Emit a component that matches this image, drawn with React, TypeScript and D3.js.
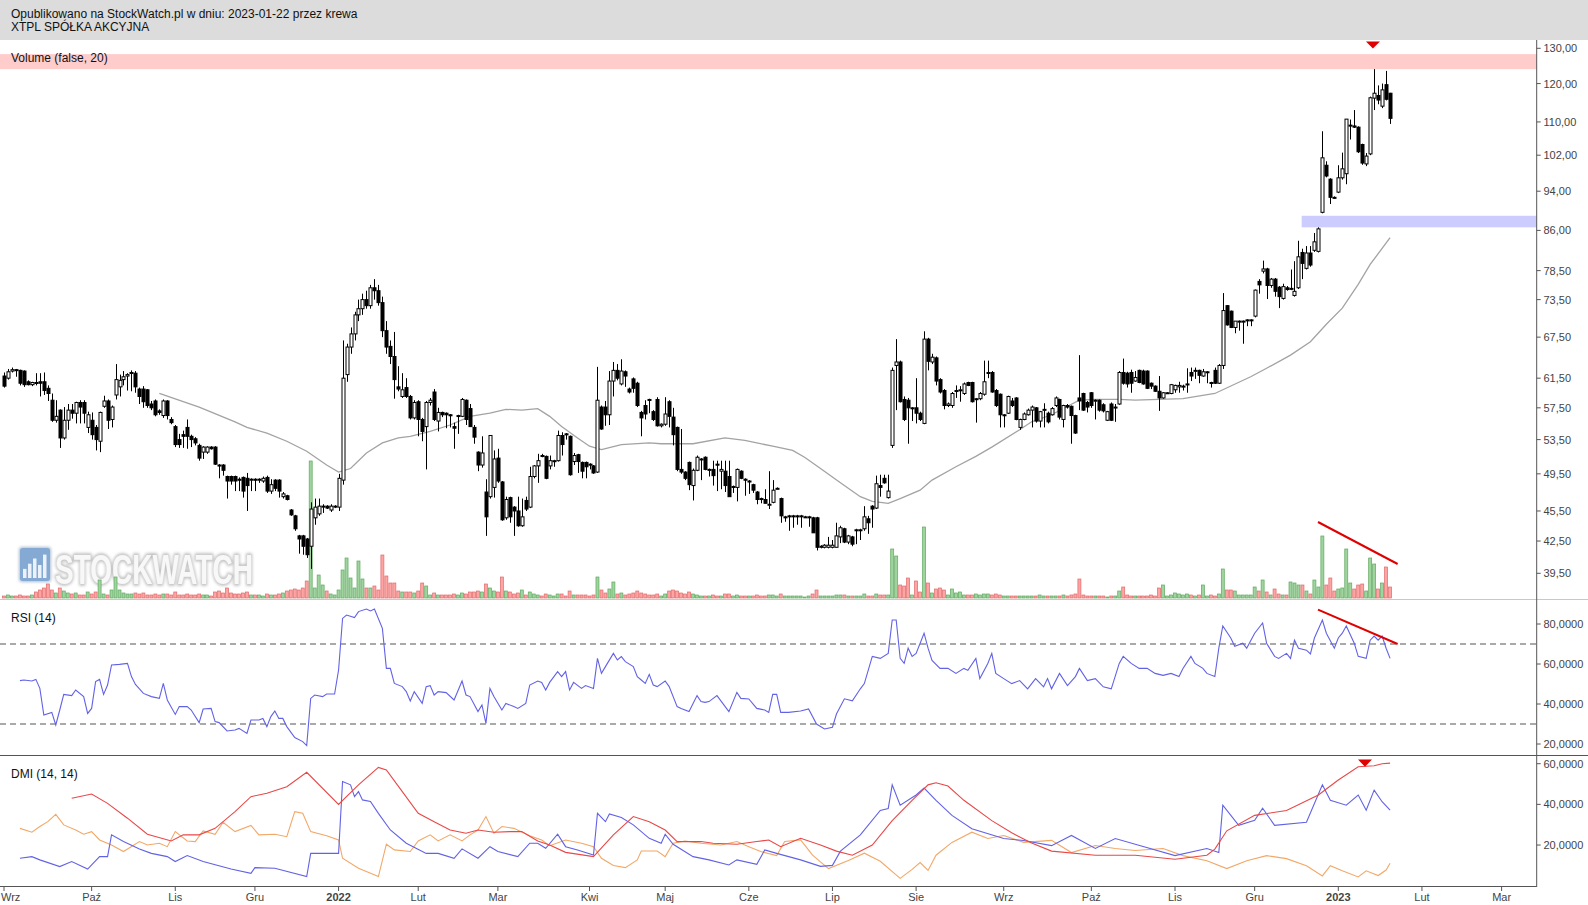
import React from "react";
import * as d3 from "d3";

const headerLine1 = "Opublikowano na StockWatch.pl w dniu: 2023-01-22 przez krewa";
const headerLine2 = "XTPL SPÓŁKA AKCYJNA";

const monthLabels = ["Wrz", "Paź", "Lis", "Gru", "2022", "Lut", "Mar", "Kwi", "Maj", "Cze", "Lip", "Sie", "Wrz", "Paź", "Lis", "Gru", "2023", "Lut", "Mar"];
const monthIndex = [0, 22, 43, 63, 84, 104, 124, 147, 166, 187, 208, 229, 251, 273, 294, 314, 335, 356, 376];
const yearLabels = ["2022", "2023"];

const priceTicks = [130, 120, 110, 102, 94, 86, 78.5, 73.5, 67.5, 61.5, 57.5, 53.5, 49.5, 45.5, 42.5, 39.5];
const rsiTicks = [80, 60, 40, 20];
const rsiLevels = [70, 30];
const dmiTicks = [60, 40, 20];

// daily candles [open, high, low, close], Sep 2021 - 20 Jan 2023
const ohlc: number[][] = [
  [61.8, 62.3, 60.2, 60.4], [61.5, 62.8, 61.3, 62.4], [62.5, 63.0, 62.3, 62.7], [62.7, 62.8, 61.7, 62.6], [62.6, 62.7, 60.5, 60.8],
  [62.5, 62.6, 60.3, 60.6], [61.0, 61.2, 60.5, 60.6], [60.6, 61.0, 60.4, 60.9], [60.9, 62.2, 60.5, 60.8], [61.0, 62.2, 59.0, 60.8],
  [61.0, 62.3, 59.2, 59.8], [60.1, 60.5, 58.4, 59.4], [58.5, 59.4, 55.7, 55.9], [55.9, 58.5, 55.6, 56.4], [57.2, 57.3, 52.5, 53.7],
  [53.7, 57.6, 53.5, 55.9], [55.9, 58.0, 54.7, 57.2], [57.2, 58.0, 56.1, 56.8], [56.8, 58.3, 55.5, 58.2], [58.2, 58.5, 55.5, 57.6],
  [58.2, 58.5, 55.5, 56.8], [55.0, 57.0, 54.3, 56.6],
  [55.9, 56.9, 53.5, 54.1], [55.0, 55.3, 52.2, 53.5], [53.3, 57.0, 52.0, 56.9], [57.7, 59.1, 57.5, 58.4], [58.4, 58.6, 54.8, 55.9],
  [56.0, 57.8, 55.0, 57.6], [59.2, 63.5, 58.6, 61.3], [60.3, 62.0, 59.0, 61.2], [61.3, 62.5, 60.5, 61.7], [61.8, 62.2, 59.8, 62.0],
  [62.2, 62.6, 59.7, 62.3], [62.2, 62.5, 59.5, 60.3], [60.0, 60.2, 58.0, 59.0], [60.0, 60.4, 57.5, 58.3], [59.9, 60.0, 57.5, 57.8],
  [58.0, 58.4, 57.2, 57.5], [58.4, 58.6, 56.4, 56.6], [57.1, 57.3, 56.6, 56.9], [56.5, 58.6, 56.2, 58.4], [58.4, 58.5, 56.0, 56.5],
  [56.0, 56.3, 55.4, 55.6],
  [55.1, 55.3, 52.6, 52.9], [53.5, 54.2, 52.5, 52.9], [54.1, 54.6, 52.5, 53.9], [55.0, 56.0, 52.4, 53.9], [53.9, 54.1, 52.6, 53.5],
  [53.6, 53.8, 52.8, 53.1], [52.8, 53.0, 51.0, 51.3], [52.0, 52.7, 51.2, 52.6], [52.0, 52.7, 51.8, 52.6], [52.6, 52.7, 52.3, 52.4],
  [52.6, 52.7, 50.5, 50.6], [50.5, 50.6, 49.0, 50.4], [50.5, 50.6, 49.3, 49.9], [49.2, 49.3, 46.8, 48.7], [49.2, 49.3, 48.3, 48.7],
  [49.2, 49.3, 47.6, 48.7], [48.9, 49.1, 47.6, 48.8], [49.1, 49.2, 46.9, 47.6], [49.0, 49.6, 45.5, 48.2], [48.9, 49.0, 47.6, 48.9],
  [48.9, 49.0, 47.6, 48.8], [48.9, 49.0, 48.5, 48.9], [48.7, 49.2, 48.5, 49.0], [49.1, 49.3, 47.4, 47.6], [47.6, 48.9, 47.3, 48.3],
  [48.8, 48.9, 47.6, 47.9], [48.8, 48.9, 46.9, 47.6], [47.0, 47.5, 46.8, 47.3], [47.1, 47.2, 46.6, 46.7], [45.6, 45.7, 45.0, 45.1],
  [45.0, 45.1, 43.5, 43.7], [43.0, 43.1, 41.3, 42.7], [43.0, 43.1, 41.2, 42.0], [42.7, 42.8, 40.9, 41.2], [42.0, 46.4, 39.9, 45.7],
  [44.8, 46.8, 44.1, 45.9], [45.2, 46.8, 45.0, 46.0], [45.9, 46.2, 45.3, 46.0], [46.0, 46.1, 45.7, 45.8], [45.6, 46.2, 45.4, 46.0],
  [45.9, 46.1, 45.8, 46.0],
  [45.9, 49.5, 45.5, 49.0], [48.8, 67.0, 48.3, 61.5], [62.0, 66.5, 61.0, 66.0], [66.0, 69.0, 65.0, 68.0], [68.0, 71.5, 67.0, 71.0],
  [71.0, 73.5, 70.0, 72.0], [72.0, 74.5, 71.0, 73.5], [73.5, 75.0, 72.0, 72.5], [72.5, 76.0, 72.0, 75.5], [75.5, 77.0, 73.5, 75.0],
  [75.0, 76.0, 72.5, 73.0], [73.0, 74.0, 67.5, 68.5], [68.5, 70.0, 65.0, 66.0], [66.1, 67.0, 63.5, 64.6], [64.6, 68.3, 58.7, 61.3],
  [60.3, 63.2, 59.7, 60.0], [59.0, 62.2, 58.8, 59.9], [60.2, 61.5, 58.8, 59.0], [59.0, 59.2, 56.0, 56.2], [56.2, 58.5, 56.0, 58.2],
  [58.3, 58.5, 53.9, 56.0], [56.0, 56.2, 53.3, 54.5], [55.1, 58.4, 50.0, 58.2], [58.2, 58.8, 57.8, 58.5], [59.6, 60.0, 55.8, 56.0],
  [55.8, 57.5, 54.5, 56.9], [56.9, 57.0, 56.3, 56.6], [56.8, 56.9, 54.9, 56.6], [56.6, 56.7, 55.0, 56.5], [55.1, 55.6, 52.4, 54.9],
  [56.4, 56.6, 54.2, 56.5], [56.4, 58.8, 56.3, 58.6], [58.5, 58.6, 55.3, 56.0], [57.4, 58.0, 55.1, 55.1], [55.0, 55.3, 53.0, 53.8],
  [52.0, 52.1, 49.8, 50.5], [50.5, 53.9, 50.2, 51.9], [47.5, 48.9, 43.0, 44.9], [47.0, 54.0, 46.8, 54.0], [48.0, 52.2, 46.9, 51.2],
  [51.3, 52.4, 48.5, 48.7], [48.6, 48.7, 44.5, 44.6], [44.8, 47.0, 44.6, 46.7], [46.9, 47.0, 44.3, 44.9], [45.9, 46.0, 43.0, 45.5],
  [45.5, 47.0, 43.9, 44.0], [44.0, 46.8, 43.9, 44.9], [46.6, 47.0, 45.5, 45.7], [45.9, 50.3, 45.8, 49.2], [49.2, 50.5, 49.0, 50.4],
  [50.4, 51.8, 48.5, 51.0], [51.6, 51.8, 51.4, 51.5], [51.5, 51.6, 48.9, 49.0], [50.4, 51.6, 50.0, 51.0], [51.0, 51.1, 50.3, 51.0],
  [51.0, 54.6, 50.9, 54.0], [54.0, 54.4, 51.6, 52.9], [54.2, 54.3, 53.5, 54.1], [53.9, 54.0, 49.3, 49.4], [50.9, 51.9, 50.5, 51.6],
  [51.7, 51.8, 49.6, 50.9], [50.8, 50.9, 49.0, 49.8], [50.8, 50.9, 49.0, 50.3],
  [50.6, 50.7, 50.0, 50.5], [50.4, 50.5, 49.5, 49.6], [49.7, 63.1, 49.6, 58.5], [57.6, 57.8, 54.7, 54.8], [57.6, 58.4, 55.2, 56.6],
  [56.6, 62.5, 55.3, 61.1], [61.1, 63.8, 59.0, 62.6], [62.6, 63.5, 61.2, 61.5], [60.7, 64.2, 60.5, 62.5], [62.4, 62.6, 60.3, 61.8],
  [60.0, 60.2, 59.4, 59.6], [61.4, 61.6, 59.5, 60.1], [60.8, 61.0, 57.6, 57.8], [56.9, 57.1, 53.9, 56.2], [57.8, 58.5, 56.0, 56.7],
  [58.6, 58.7, 56.8, 58.5], [57.0, 57.2, 55.8, 56.0], [58.6, 58.9, 55.1, 55.2], [55.2, 55.5, 55.0, 55.4],
  [55.4, 58.9, 55.2, 56.7], [58.3, 58.5, 55.0, 56.4], [56.3, 57.5, 52.8, 54.1], [55.0, 55.1, 49.8, 50.0], [50.0, 54.8, 49.5, 49.7],
  [49.7, 49.8, 48.8, 49.0], [50.8, 50.9, 47.7, 48.3], [48.2, 50.1, 46.6, 49.9], [49.9, 51.6, 49.8, 51.4], [51.2, 51.3, 48.8, 51.2],
  [51.4, 51.5, 49.9, 50.0], [50.0, 50.1, 49.2, 50.0], [50.0, 51.0, 48.2, 49.3], [50.6, 51.0, 47.6, 50.5], [49.8, 51.0, 47.8, 50.0],
  [49.8, 51.0, 47.5, 48.2], [49.2, 51.0, 47.0, 47.0], [48.1, 48.2, 47.4, 48.1], [48.0, 50.1, 46.5, 50.0], [49.8, 49.9, 48.9, 49.0],
  [48.9, 49.0, 47.1, 48.8],
  [48.7, 48.8, 47.3, 48.7], [48.3, 48.4, 47.4, 47.7], [47.5, 47.6, 46.2, 46.7], [46.8, 46.9, 46.3, 46.7], [46.7, 47.8, 46.3, 46.3],
  [46.2, 49.8, 45.7, 46.2], [46.4, 48.8, 46.3, 47.7], [47.9, 48.0, 47.8, 47.9], [46.8, 46.9, 44.3, 45.0], [44.9, 45.0, 44.4, 44.9],
  [45.0, 45.1, 43.5, 45.0], [44.9, 45.1, 43.8, 45.0], [45.0, 45.1, 44.1, 45.0], [45.0, 45.1, 43.8, 45.0], [44.9, 45.0, 44.8, 44.9],
  [44.9, 45.0, 43.9, 44.9], [44.8, 44.9, 43.3, 43.3], [44.8, 44.9, 41.6, 41.9], [41.9, 42.1, 41.8, 42.0], [41.9, 42.2, 41.8, 42.1],
  [41.9, 42.9, 41.8, 42.1],
  [41.9, 42.6, 41.8, 42.1], [41.9, 44.3, 41.9, 43.0], [42.9, 44.0, 42.3, 43.8], [43.7, 43.8, 42.3, 42.4], [42.4, 43.1, 42.2, 43.0],
  [42.9, 43.0, 42.0, 42.2], [43.6, 43.7, 42.2, 43.6], [43.6, 43.7, 42.6, 43.6], [43.7, 46.0, 43.5, 44.9], [44.7, 45.0, 43.2, 44.3],
  [46.0, 46.1, 43.8, 45.7], [45.8, 49.3, 45.7, 48.4], [48.2, 49.4, 47.0, 48.0], [49.0, 49.4, 48.4, 48.5], [46.9, 49.4, 46.8, 47.6],
  [52.8, 63.0, 52.5, 62.6], [63.3, 67.2, 57.2, 63.8], [63.8, 64.0, 58.2, 58.3], [58.6, 59.0, 55.8, 56.0], [58.5, 58.8, 53.0, 57.5],
  [57.5, 57.6, 55.8, 57.5],
  [57.5, 61.5, 55.5, 56.8], [56.8, 57.0, 55.8, 56.0], [55.5, 68.4, 55.4, 67.2], [67.2, 67.4, 62.6, 63.9], [63.8, 65.0, 63.5, 64.5],
  [64.4, 64.6, 60.5, 61.1], [61.3, 61.5, 59.4, 59.6], [59.8, 60.0, 57.3, 57.8], [57.8, 58.2, 57.6, 58.0], [57.8, 59.6, 57.5, 59.4],
  [59.8, 60.5, 58.8, 59.8], [59.8, 60.4, 58.3, 59.9], [59.4, 60.9, 59.2, 60.7], [60.9, 61.0, 60.4, 60.5], [60.9, 61.0, 58.2, 58.3],
  [58.7, 58.8, 55.6, 58.7], [58.7, 59.6, 58.5, 59.4], [59.3, 64.0, 59.1, 61.0], [62.3, 64.0, 61.5, 62.3], [62.3, 62.5, 59.5, 59.6],
  [59.8, 60.0, 57.6, 57.8], [59.3, 59.4, 55.0, 56.6],
  [56.6, 56.7, 55.0, 56.6], [56.8, 59.1, 56.7, 59.0], [58.4, 58.8, 57.6, 57.8], [58.8, 58.9, 55.9, 56.0], [55.0, 56.1, 54.7, 56.0],
  [56.0, 56.9, 55.9, 56.7], [56.6, 57.4, 56.5, 57.2], [57.2, 57.8, 55.0, 57.6], [57.5, 57.6, 55.6, 55.8], [55.8, 57.1, 55.0, 57.0],
  [57.2, 58.1, 55.0, 57.3], [56.8, 57.0, 55.5, 55.7], [56.6, 57.6, 56.5, 57.4], [57.8, 59.0, 57.6, 58.8], [58.6, 58.7, 56.0, 56.3],
  [56.0, 57.9, 55.0, 57.8], [57.8, 58.0, 57.4, 57.6], [57.7, 57.8, 53.0, 56.5], [56.5, 56.6, 54.2, 54.3], [58.8, 64.8, 57.2, 58.4],
  [59.4, 59.5, 57.1, 57.2], [58.2, 58.4, 56.9, 57.6],
  [59.5, 59.6, 57.5, 57.8], [58.5, 58.6, 56.0, 58.5], [58.5, 58.6, 57.0, 57.2], [57.9, 58.1, 56.9, 57.1], [55.9, 57.1, 55.8, 57.0],
  [58.0, 58.2, 55.8, 55.9], [57.5, 58.0, 55.7, 57.6], [58.0, 62.5, 57.9, 62.3], [62.3, 64.3, 60.6, 60.8], [62.2, 62.4, 60.2, 60.7],
  [62.3, 62.7, 59.5, 60.8], [61.1, 62.5, 61.0, 61.6], [62.6, 62.7, 60.8, 60.9], [62.5, 62.7, 60.6, 60.7], [62.5, 62.6, 60.0, 60.1],
  [60.8, 60.9, 60.0, 60.4], [60.4, 60.5, 59.6, 59.7], [59.7, 61.8, 57.1, 58.8], [58.8, 59.6, 58.7, 59.5], [59.5, 59.6, 59.4, 59.5],
  [59.4, 60.7, 59.3, 60.6],
  [59.9, 60.6, 59.5, 60.5], [60.3, 61.0, 59.5, 60.5], [60.4, 60.6, 59.8, 60.4], [60.7, 62.9, 59.5, 60.7], [62.3, 63.0, 61.1, 61.8],
  [62.6, 63.0, 61.4, 62.6], [62.6, 62.7, 60.8, 61.9], [61.8, 62.8, 61.7, 62.4], [62.4, 62.5, 60.8, 62.4], [60.9, 61.0, 60.2, 60.8],
  [62.6, 63.0, 60.7, 60.8], [60.8, 63.5, 60.7, 63.3], [63.3, 74.6, 62.8, 71.7], [72.5, 72.6, 69.3, 69.4], [71.6, 71.7, 68.9, 69.0],
  [69.0, 70.0, 68.1, 70.0], [70.0, 70.1, 68.5, 70.0], [70.0, 70.1, 66.5, 70.0], [70.2, 70.3, 69.2, 70.2], [70.2, 70.3, 69.2, 70.2],
  [70.8, 75.2, 70.6, 75.1], [76.6, 77.0, 74.5, 76.0], [78.4, 80.3, 78.0, 78.8], [78.8, 79.0, 73.6, 75.9], [75.9, 77.2, 75.5, 77.0],
  [77.0, 77.2, 74.0, 74.9], [75.6, 75.8, 72.1, 74.0], [73.7, 76.2, 73.5, 75.7], [75.5, 75.8, 75.0, 75.2], [75.3, 78.7, 75.1, 75.4],
  [74.2, 80.2, 74.0, 74.9], [75.5, 84.0, 75.3, 81.0], [81.8, 82.5, 77.0, 79.8], [78.9, 83.0, 78.7, 81.7], [81.7, 83.0, 79.2, 79.5],
  [82.2, 85.5, 81.9, 83.8], [82.0, 86.6, 81.8, 86.3], [89.6, 107.7, 89.4, 101.4], [99.7, 100.6, 97.0, 97.3], [96.6, 96.8, 91.3, 92.7],
  [92.7, 92.9, 92.4, 92.6],
  [93.8, 99.7, 93.6, 96.9], [96.9, 102.6, 96.5, 98.9], [97.8, 110.7, 95.5, 110.7], [109.0, 110.6, 105.7, 109.2], [109.0, 113.0, 108.5, 108.7],
  [108.7, 108.9, 102.5, 102.8], [104.5, 104.7, 99.8, 100.2], [100.0, 102.5, 99.5, 101.8], [102.3, 116.5, 102.0, 116.2], [116.1, 124.0, 113.0, 117.4],
  [116.8, 119.5, 114.5, 115.6], [114.0, 120.0, 113.5, 118.3], [119.7, 123.5, 115.5, 115.8], [117.4, 117.5, 109.5, 110.9],
];

const volume: number[] = [
  2, 3, 2, 2, 3, 2, 2, 3, 6, 8,
  10, 14, 8, 5, 10, 7, 5, 4, 5, 3,
  3, 6, 4, 6, 18, 4, 3, 8, 21, 8,
  5, 4, 4, 5, 4, 5, 3, 3, 4, 3,
  4, 4, 3, 6, 3, 3, 4, 3, 3, 4,
  3, 3, 2, 6, 7, 5, 10, 5, 4, 4,
  5, 6, 3, 3, 3, 2, 4, 3, 3, 4,
  5, 7, 8, 9, 8, 10, 17, 137, 10, 23,
  13, 7, 4, 3, 8, 28, 40, 20, 10, 37,
  19, 10, 10, 12, 8, 43, 22, 15, 15, 7,
  6, 6, 6, 5, 7, 15, 12, 3, 5, 3,
  3, 3, 3, 4, 3, 5, 4, 6, 6, 7,
  6, 14, 10, 7, 6, 21, 7, 6, 4, 5,
  8, 3, 6, 4, 3, 2, 4, 3, 2, 4,
  4, 2, 7, 3, 3, 3, 3, 2, 3, 21,
  8, 5, 9, 16, 4, 5, 3, 4, 5, 7,
  5, 4, 3, 3, 4, 2, 4, 7, 8, 7,
  5, 4, 6, 4, 3, 2, 2, 2, 3, 2,
  2, 4, 4, 2, 3, 2, 2, 2, 2, 3,
  2, 2, 3, 3, 2, 4, 2, 2, 2, 2,
  2, 1, 2, 4, 8, 2, 2, 2, 2, 3,
  3, 3, 2, 2, 2, 2, 4, 2, 2, 4,
  3, 3, 3, 49, 42, 13, 12, 20, 3, 17,
  6, 71, 15, 5, 9, 10, 8, 3, 9, 5,
  6, 3, 3, 3, 4, 3, 4, 4, 3, 4,
  3, 2, 2, 2, 2, 2, 2, 2, 2, 2,
  3, 2, 2, 2, 2, 2, 3, 2, 3, 4,
  19, 3, 2, 2, 2, 2, 2, 1, 2, 2,
  7, 11, 3, 2, 2, 2, 2, 2, 3, 2,
  10, 13, 2, 3, 5, 4, 3, 4, 3, 2,
  3, 13, 2, 3, 2, 4, 29, 8, 8, 7,
  3, 3, 3, 3, 11, 7, 18, 6, 3, 9,
  4, 3, 3, 16, 15, 13, 13, 7, 4, 18,
  11, 62, 13, 20, 7, 9, 10, 49, 15, 9,
  13, 14, 7, 40, 34, 9, 15, 31, 11,
];

// gray moving average [day index, price]
const smaPoints: [number, number][] = [
  [39, 59.4], [49, 57.6], [58, 55.7], [61, 55.0], [66, 54.3], [71, 53.3], [76, 52.1], [81, 50.5], [84, 49.7], [87, 50.1],
  [91, 51.9], [95, 53.1], [99, 53.7], [102, 53.9], [107, 54.5], [112, 55.3], [117, 56.4], [122, 56.8], [126, 57.3], [130, 57.2],
  [134, 57.4], [137, 56.4], [140, 55.1], [144, 53.7], [147, 52.7], [150, 52.3], [155, 52.9], [162, 53.1], [165, 53.0], [173, 53.0],
  [181, 53.7], [186, 53.4], [193, 52.7], [198, 52.2], [201, 51.4], [205, 50.1], [210, 48.5], [215, 47.0], [218, 46.5], [222, 46.3],
  [225, 46.8], [230, 47.7], [233, 48.8], [239, 50.3], [244, 51.5], [248, 52.6], [255, 54.7], [258, 55.7], [263, 56.6], [267, 57.7],
  [270, 58.5], [274, 58.6], [280, 58.6], [284, 58.5], [290, 58.6], [296, 58.7], [304, 59.4], [313, 61.7], [317, 62.9], [323, 64.8],
  [328, 66.8], [332, 69.5], [336, 72.1], [340, 76.1], [343, 79.6], [348, 84.6],
];

const rsiPoints: [number, number][] = [
  [4, 51.7], [5, 52], [7, 51.5], [8, 52.3], [9, 47.8], [10, 34.5], [12, 35.8], [13, 29.5], [14, 37], [15, 44.8],
  [17, 44.2], [18, 47], [20, 43.7], [21, 35.3], [22, 37.8], [23, 51.2], [24, 52.3], [25, 44.8], [26, 49.5], [27, 59.5],
  [29, 59.8], [31, 60.3], [32, 53.7], [33, 49.8], [35, 45.3], [37, 43.7], [39, 42.8], [40, 50.3], [41, 42], [43, 34.8],
  [44, 38.7], [46, 38.7], [47, 37], [49, 30.7], [50, 37.5], [52, 37.8], [53, 31.2], [54, 30.7], [56, 26.5], [58, 27],
  [59, 27.8], [61, 25.3], [62, 32], [64, 32], [65, 32.8], [66, 28.7], [67, 33.7], [68, 36.5], [69, 32.8], [70, 32.8],
  [71, 28.7], [73, 23.2], [75, 21.2], [76, 19.2], [77, 42.8], [78, 44.5], [80, 43.7], [81, 45], [83, 45], [84, 57],
  [85, 82.8], [86, 84.5], [88, 83.2], [89, 86.2], [91, 87.5], [92, 86.5], [93, 87.5], [95, 77.8], [96, 57.8], [97, 57.8],
  [98, 50.3], [100, 48.7], [101, 46.2], [102, 41.5], [103, 46.2], [105, 40.3], [106, 48.7], [107, 49.2], [108, 44.5], [109, 46.2],
  [111, 45.7], [113, 42], [115, 51.5], [116, 44.5], [117, 43.7], [119, 36.2], [120, 39.5], [121, 30.3], [122, 47.8], [123, 43.7],
  [125, 37], [126, 40.3], [128, 38.7], [129, 37.8], [131, 40.3], [132, 49.5], [134, 51.5], [135, 50.8], [136, 47], [137, 50.8],
  [139, 56.2], [140, 53.7], [141, 56.2], [142, 47], [143, 50.8], [145, 47.8], [146, 49.2], [148, 47.8], [149, 62.8], [150, 55.3],
  [151, 58.7], [153, 65.3], [154, 62], [155, 63.7], [156, 61.2], [158, 58.7], [159, 53.7], [160, 52], [161, 50.3], [162, 54.8],
  [163, 49.5], [164, 48.7], [166, 51.5], [167, 48.7], [169, 38.7], [170, 37.8], [172, 36.2], [174, 44.2], [175, 41.2], [176, 40.8],
  [177, 41.2], [179, 44.2], [182, 36.2], [184, 45.8], [185, 42.8], [187, 42.5], [189, 37.8], [191, 37], [192, 35.8], [193, 44.8],
  [194, 44.8], [195, 35.8], [197, 35.8], [200, 36.5], [202, 37.5], [204, 30], [206, 27.5], [208, 28.4], [209, 35], [211, 42.6],
  [213, 41.6], [215, 47.6], [216, 50.2], [218, 63.8], [220, 62.8], [222, 65.3], [223, 82], [224, 82], [225, 62.8], [226, 60.3],
  [227, 67.9], [228, 63.8], [229, 65.3], [231, 75.4], [232, 67.9], [233, 61.8], [235, 57.8], [237, 57.8], [239, 55.3], [241, 57.8],
  [242, 56.8], [244, 62.8], [245, 52.7], [247, 60.3], [248, 65.3], [249, 55.3], [251, 52.7], [253, 50.2], [255, 51.7], [257, 47.6],
  [259, 52.7], [261, 48.6], [262, 52.7], [263, 47.6], [265, 55.3], [267, 49.2], [269, 53.7], [270, 57.8], [272, 51.7], [274, 52.7],
  [276, 48.6], [278, 47.6], [280, 60.3], [281, 63.8], [283, 60.3], [285, 57.8], [287, 57.8], [289, 55.3], [291, 54.3], [293, 55.3],
  [295, 53.7], [296, 57.8], [298, 63.8], [299, 60.3], [301, 57.8], [302, 55.3], [304, 53.7], [305, 67.9], [306, 79], [308, 73],
  [309, 68.9], [311, 70.4], [312, 67.9], [314, 75.4], [316, 80.5], [317, 70.4], [319, 63.8], [320, 62.8], [322, 65.3], [323, 62.8],
  [324, 71.9], [325, 67.9], [327, 66.9], [328, 65], [329, 73], [331, 82], [332, 75.4], [334, 67.9], [335, 73], [336, 75.4],
  [337, 79], [339, 70.4], [340, 63.8], [342, 62.8], [343, 71.9], [344, 74], [345, 71.9], [346, 74], [347, 67.9], [348, 62.8],
];

const adxPoints: [number, number][] = [
  [17, 43], [22, 45.1], [26, 40.5], [31, 33.2], [36, 25.3], [42, 22], [45, 25], [49, 25], [53, 28.2], [58, 36.4],
  [62, 43.8], [66, 45.5], [71, 48.7], [76, 55.8], [84, 40], [89, 49.6], [94, 58.2], [96, 56.9], [100, 46.3], [104, 35.6],
  [108, 31.5], [112, 27.4], [116, 25.8], [119, 27.4], [123, 26.3], [127, 26.6], [130, 26.6], [134, 22], [137, 20], [141, 16.4],
  [148, 14.3], [153, 25], [158, 34], [162, 31.5], [166, 27.4], [169, 21.7], [175, 21.7], [178, 20.9], [184, 20.4], [189, 21.7],
  [192, 22.5], [195, 19.2], [200, 23.3], [205, 20], [209, 17], [213, 15], [218, 20], [223, 32], [228, 42], [232, 49.6],
  [234, 50.6], [237, 49], [241, 42], [248, 32], [253, 26], [258, 21], [263, 17], [274, 15], [284, 15], [294, 13],
  [302, 15], [304, 18], [307, 27], [314, 34.6], [322, 37], [330, 44.6], [335, 52], [340, 58.5], [344, 59], [346, 60],
  [348, 60.3],
];

const plusDiPoints: [number, number][] = [
  [4, 13.5], [7, 14.3], [9, 12.7], [14, 9.4], [17, 11.9], [21, 8.2], [24, 14.3], [26, 14.3], [27, 25], [30, 21.7],
  [34, 18.1], [37, 15.9], [41, 14.3], [43, 11.9], [46, 14.8], [50, 11.9], [57, 8.2], [62, 6.1], [63, 8.9], [68, 8.6],
  [76, 4.5], [77, 15.9], [79, 15.9], [84, 15.9], [85, 51.2], [87, 49.6], [88, 43.8], [89, 46.3], [90, 42.2], [92, 41.4],
  [94, 35.6], [97, 27.4], [101, 20.9], [106, 15.9], [109, 15.9], [113, 13.5], [115, 18.1], [119, 13.5], [122, 19.2], [124, 16.8],
  [129, 14.3], [132, 20.9], [134, 20.9], [136, 18.4], [139, 25.3], [141, 19.2], [144, 17.6], [148, 15.1], [149, 35.6], [151, 31.5],
  [152, 35.3], [155, 33.5], [158, 29.9], [162, 23.3], [165, 20.9], [166, 25.3], [168, 20.4], [173, 14.3], [177, 12.7], [182, 10.2],
  [184, 12.7], [189, 10.5], [191, 17.6], [194, 15.9], [200, 12.7], [205, 9.5], [208, 10], [210, 17], [215, 25], [220, 37],
  [222, 38], [223, 49.6], [225, 39.6], [229, 44.6], [231, 48], [234, 42], [238, 34.6], [243, 28], [251, 23.2], [256, 22.2],
  [263, 19.7], [268, 24.7], [274, 18.3], [279, 23.2], [286, 19.3], [294, 14.8], [302, 18.3], [305, 16.3], [306, 39.6], [310, 29.7],
  [314, 32.2], [316, 38.1], [319, 29.7], [327, 31.2], [331, 49.6], [333, 42], [337, 39.6], [340, 44.6], [342, 37.1], [344, 47],
  [346, 41.3], [348, 37.2],
];

const minusDiPoints: [number, number][] = [
  [4, 28.2], [7, 26.3], [9, 29.1], [11, 31.5], [13, 35.1], [15, 29.9], [18, 27.4], [20, 25.3], [22, 26.6], [24, 22.5],
  [27, 20], [30, 16.8], [34, 21.7], [36, 20], [39, 20.9], [41, 19.2], [43, 26.6], [46, 22], [48, 21.7], [50, 26.9],
  [53, 25.3], [55, 31.2], [58, 26.6], [62, 29.6], [64, 25], [68, 25.3], [71, 24.1], [73, 36.4], [75, 35.6], [77, 26.6],
  [81, 24.6], [84, 22.5], [85, 13.5], [89, 8.6], [94, 4.5], [96, 20.4], [98, 17.6], [102, 16.8], [104, 22], [107, 25],
  [109, 22], [112, 25], [115, 22], [117, 25], [119, 27.4], [121, 34], [123, 25.8], [125, 29.1], [128, 28.2], [132, 24.6],
  [135, 22.5], [137, 19.7], [141, 22.5], [145, 20.9], [148, 19.2], [150, 13.5], [153, 9.9], [156, 8.9], [159, 12.7], [160, 17.1],
  [164, 17.1], [166, 14.3], [168, 20.9], [171, 22], [175, 20.9], [180, 20], [184, 21.7], [187, 19.2], [190, 16.8], [194, 14.8],
  [196, 21.7], [200, 22.5], [203, 15], [207, 8.4], [212, 12.4], [216, 16], [220, 12], [225, 3.6], [228, 8], [230, 11.4],
  [232, 7.5], [234, 15], [238, 21.3], [243, 26.3], [247, 23.2], [251, 24.7], [256, 21.3], [263, 22.3], [268, 16.3], [274, 19.8],
  [279, 18.3], [284, 17.3], [291, 18.3], [296, 14.8], [302, 12.3], [307, 8.4], [312, 12.3], [317, 14.8], [322, 13.3], [327, 9.8],
  [331, 4.8], [333, 9.8], [336, 7.3], [340, 4.3], [342, 7.3], [345, 5], [347, 7.7], [348, 11],
];

// drawn annotations
const resistanceZone = [124.0, 128.3];
const supportZone = [86.6, 88.9];
const supportZoneStart = 325.8;
const volumeTrend: [number, number][] = [[329.9, 76], [349.9, 34]];
const rsiTrend: [number, number][] = [[329.9, 87.2], [349.9, 70]];
const priceMarkerIdx = 343.7;
const dmiMarkerIdx = 341.7;

const FONT = "'Liberation Sans', Arial, Helvetica, sans-serif";
const AXIS_X = 1536.7;

const fmt2 = (v: number) => v.toFixed(2).replace(".", ",");
const fmt4 = (v: number) => v.toFixed(4).replace(".", ",");

export default function App() {
  const x = d3.scaleLinear().domain([0, 384]).range([4, 4 + 384 * 3.983]);
  const yP = d3.scaleLog().domain([39.5, 130]).range([573.3, 48.3]);
  const yV = d3.scaleLinear().domain([0, 140]).range([598, 458]);
  const yR = d3.scaleLinear().domain([20, 80]).range([744, 624]);
  const yD = d3.scaleLinear().domain([0, 60]).range([885.7, 763.7]);

  const smaLine = d3.line<[number, number]>().x((d) => x(d[0])).y((d) => yP(d[1]));
  const rsiLine = d3.line<[number, number]>().x((d) => x(d[0])).y((d) => yR(d[1]));
  const dmiLine = d3.line<[number, number]>().x((d) => x(d[0])).y((d) => yD(d[1]));

  const bw = 3;

  return (
    <svg width={1588} height={905} style={{ position: "fixed", left: 0, top: 0, display: "block", background: "#fff" }} fontFamily={FONT}>
      <defs>
        <clipPath id="pricePanel">
          <rect x={0} y={40} width={AXIS_X} height={559} />
        </clipPath>
        <filter id="wmShadow" x="-10%" y="-30%" width="120%" height="160%">
          <feGaussianBlur stdDeviation={1.6} />
        </filter>
      </defs>
      <rect x={0} y={0} width={1588} height={905} fill="#fff" />
      {/* header */}
      <rect x={0} y={0} width={1588} height={40} fill="#dcdcdc" />
      <text x={11} y={17.5} fontSize={12} fill="#111">{headerLine1}</text>
      <text x={11} y={31} fontSize={12} fill="#111">{headerLine2}</text>

      {/* zones */}
      <rect x={0} y={yP(resistanceZone[1])} width={AXIS_X} height={yP(resistanceZone[0]) - yP(resistanceZone[1])} fill="#ffcccc" />
      <rect x={x(supportZoneStart)} y={yP(supportZone[1])} width={AXIS_X - x(supportZoneStart)} height={yP(supportZone[0]) - yP(supportZone[1])} fill="#ccccff" />
      <text x={11} y={61.5} fontSize={12} fill="#111">Volume (false, 20)</text>

      {/* watermark */}
      <g opacity={0.85}>
        <rect x={19} y={547} width={32} height={35} rx={3} fill="#9db4cc" filter="url(#wmShadow)" />
        <rect x={20} y={548} width={30} height={33} rx={3} fill="#6f9bcc" />
        {[0.35, 0.55, 0.75, 0.5, 0.9].map((h, k) => (
          <rect key={k} x={23 + k * 5} y={578 - h * 26} width={3.5} height={h * 26} fill="#e8f0fa" />
        ))}
        <text x={55} y={584} fontSize={42} fontWeight="bold" fill="none" stroke="#a8a8a8" strokeWidth={3} textLength={198} lengthAdjust="spacingAndGlyphs" filter="url(#wmShadow)">STOCKWATCH</text>
        <text x={55} y={584} fontSize={42} fontWeight="bold" fill="#f7f7f7" textLength={198} lengthAdjust="spacingAndGlyphs">STOCKWATCH</text>
      </g>

      <g clipPath="url(#pricePanel)">
        {/* volume */}
        {volume.map((v, i) => {
          const up = ohlc[i][3] >= ohlc[i][0];
          const top = yV(v);
          return (
            <rect key={"v" + i} x={x(i) - 1.5} y={top} width={bw} height={Math.max(0.5, yV(0) - top)}
              fill={up ? "#9fd49f" : "#ffa3a3"} stroke={up ? "#5fa85f" : "#e06a6a"} strokeWidth={0.7} />
          );
        })}
        {/* moving average */}
        <path d={smaLine(smaPoints) || ""} fill="none" stroke="#a3a3a3" strokeWidth={1.3} />
        {/* candles */}
        {ohlc.map((c, i) => {
          const [o, h, l, cl] = c;
          const cx = Math.round(x(i)) + 0.5;
          const up = cl >= o;
          const yt = yP(Math.max(o, cl));
          const yb = yP(Math.min(o, cl));
          const bh = Math.max(1, yb - yt);
          return (
            <g key={"c" + i}>
              <line x1={cx} x2={cx} y1={yP(h)} y2={yP(l)} stroke="#000" strokeWidth={1} />
              <rect x={cx - 1.5} y={yt} width={bw} height={bh} fill={up ? "#fff" : "#000"} stroke="#000" strokeWidth={1} />
            </g>
          );
        })}
        {/* volume trend line */}
        <line x1={x(volumeTrend[0][0])} y1={yV(volumeTrend[0][1])} x2={x(volumeTrend[1][0])} y2={yV(volumeTrend[1][1])} stroke="#e00000" strokeWidth={2} />
      </g>
      {/* marker on price panel */}
      <path d={`M${x(priceMarkerIdx) - 7},41.5 L${x(priceMarkerIdx) + 7},41.5 L${x(priceMarkerIdx)},48.6 Z`} fill="#e00000" />

      {/* panel separators */}
      <line x1={0} x2={1588} y1={599.5} y2={599.5} stroke="#c8c8c8" strokeWidth={1} />
      <line x1={0} x2={1588} y1={755.5} y2={755.5} stroke="#555" strokeWidth={1} />
      <line x1={0} x2={AXIS_X} y1={886.5} y2={886.5} stroke="#555" strokeWidth={1} />
      <line x1={AXIS_X} x2={AXIS_X} y1={40} y2={887} stroke="#555" strokeWidth={1} />

      {/* price axis */}
      {priceTicks.map((t) => (
        <g key={"pt" + t}>
          <line x1={AXIS_X} x2={AXIS_X + 4} y1={yP(t)} y2={yP(t)} stroke="#555" />
          <text x={1543.5} y={yP(t) + 4} fontSize={11} fill="#444">{fmt2(t)}</text>
        </g>
      ))}

      {/* RSI */}
      <text x={11} y={622} fontSize={12} fill="#111">RSI (14)</text>
      {rsiLevels.map((lv) => (
        <line key={"lv" + lv} x1={0} x2={AXIS_X} y1={yR(lv)} y2={yR(lv)} stroke="#555" strokeDasharray="6,4" strokeWidth={1} />
      ))}
      <path d={rsiLine(rsiPoints) || ""} fill="none" stroke="#6262e6" strokeWidth={1.1} />
      <line x1={x(rsiTrend[0][0])} y1={yR(rsiTrend[0][1])} x2={x(rsiTrend[1][0])} y2={yR(rsiTrend[1][1])} stroke="#e00000" strokeWidth={2} />
      {rsiTicks.map((t) => (
        <g key={"rt" + t}>
          <line x1={AXIS_X} x2={AXIS_X + 4} y1={yR(t)} y2={yR(t)} stroke="#555" />
          <text x={1543.5} y={yR(t) + 4} fontSize={11} fill="#444">{fmt4(t)}</text>
        </g>
      ))}

      {/* DMI */}
      <text x={11} y={778} fontSize={12} fill="#111">DMI (14, 14)</text>
      <path d={dmiLine(minusDiPoints) || ""} fill="none" stroke="#f2a868" strokeWidth={1.1} />
      <path d={dmiLine(plusDiPoints) || ""} fill="none" stroke="#6262e6" strokeWidth={1.1} />
      <path d={dmiLine(adxPoints) || ""} fill="none" stroke="#e84848" strokeWidth={1.1} />
      <path d={`M${x(dmiMarkerIdx) - 7},759.6 L${x(dmiMarkerIdx) + 7},759.6 L${x(dmiMarkerIdx)},766.7 Z`} fill="#e00000" />
      {dmiTicks.map((t) => (
        <g key={"dt" + t}>
          <line x1={AXIS_X} x2={AXIS_X + 4} y1={yD(t)} y2={yD(t)} stroke="#555" />
          <text x={1543.5} y={yD(t) + 4} fontSize={11} fill="#444">{fmt4(t)}</text>
        </g>
      ))}

      {/* time axis */}
      {monthIndex.map((mi, k) => (
        <g key={"m" + k}>
          <line x1={x(mi)} x2={x(mi)} y1={886.5} y2={891} stroke="#555" />
          <text x={k === 0 ? 1 : x(mi)} y={901} fontSize={11} fill="#444" textAnchor={k === 0 ? "start" : "middle"}
            fontWeight={yearLabels.includes(monthLabels[k]) ? "bold" : "normal"}>{monthLabels[k]}</text>
        </g>
      ))}
    </svg>
  );
}
